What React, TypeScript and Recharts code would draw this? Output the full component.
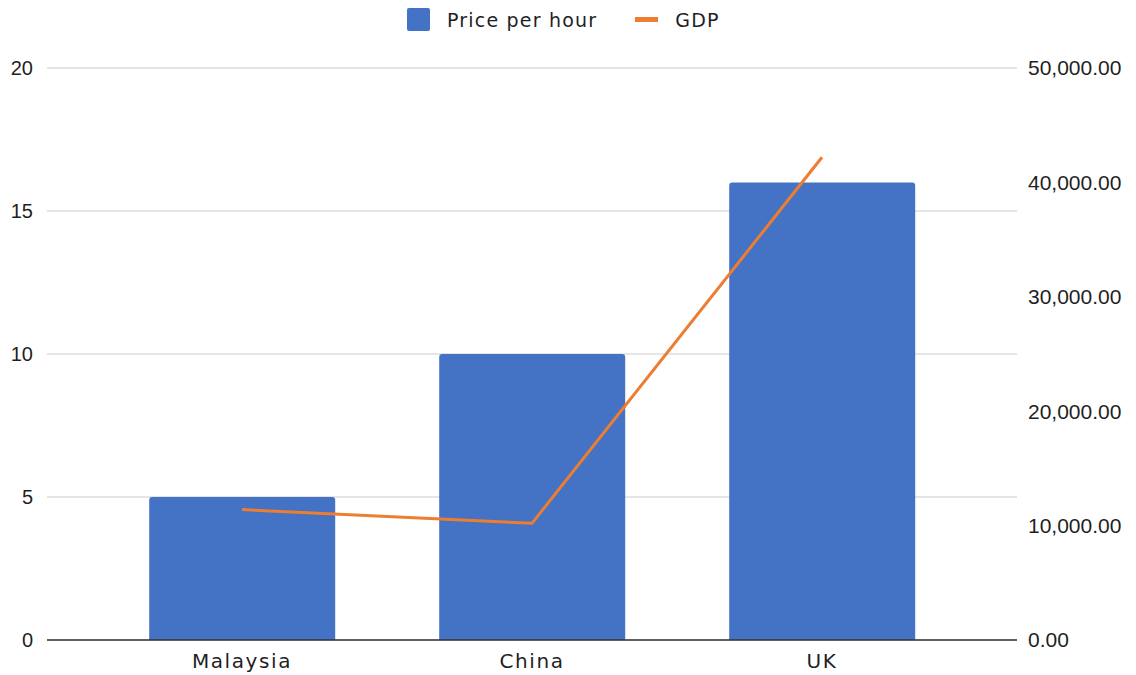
import React from 'react'
import {
  ComposedChart, Bar, Line, XAxis, YAxis, CartesianGrid, Legend,
} from 'recharts'

const countries = ['Malaysia', 'China', 'UK']
const pricePerHour = [5, 10, 16]
const gdp = [11400, 10200, 42200]

const leftTicks = [0, 5, 10, 15, 20]
const rightTicks = [0, 10000, 20000, 30000, 40000, 50000]

const BLUE = '#4472c4'
const ORANGE = '#ed7d31'
const TEXT = '#1f1f1f'
const AXIS_FONT = '"Liberation Sans", Arial, sans-serif'
const LABEL_FONT = '"DejaVu Sans", Verdana, sans-serif'

const data = countries.map((name, i) => ({
  name,
  price: pricePerHour[i],
  gdp: gdp[i],
}))

const fmtMoney = (v: number) =>
  v.toLocaleString('en-US', { minimumFractionDigits: 2, maximumFractionDigits: 2 })

function LegendContent() {
  return (
    <div
      style={{
        display: 'flex',
        alignItems: 'center',
        fontFamily: LABEL_FONT,
        fontSize: 19,
        letterSpacing: 1.2,
        color: TEXT,
      }}
    >
      <span style={{ width: 23, height: 23, background: BLUE, borderRadius: 2, display: 'inline-block' }} />
      <span style={{ marginLeft: 17 }}>Price per hour</span>
      <span style={{ width: 23, height: 5, background: ORANGE, display: 'inline-block', marginLeft: 38 }} />
      <span style={{ marginLeft: 17 }}>GDP</span>
    </div>
  )
}

export default function App() {
  return (
    <div style={{ width: 1136, height: 675, position: 'relative' }}>
      <style>{'body { margin: 0; }'}</style>
      <ComposedChart
        width={1136}
        height={675}
        data={data}
        margin={{ top: 68, right: 0, bottom: 0, left: 0 }}
        barCategoryGap="18%"
      >
        <CartesianGrid
          yAxisId="left"
          vertical={false}
          stroke="#cccccc"
          strokeWidth={1.2}
        />
        <XAxis
          dataKey="name"
          height={35}
          padding={{ left: 50, right: 50 }}
          tickLine={false}
          tickSize={0}
          tickMargin={14}
          axisLine={{ stroke: '#333333', strokeWidth: 1.5 }}
          tick={{ fontSize: 20, fill: TEXT, fontFamily: LABEL_FONT, letterSpacing: 1.6 }}
        />
        <YAxis
          yAxisId="left"
          orientation="left"
          width={47}
          domain={[0, 20]}
          ticks={leftTicks}
          axisLine={false}
          tickLine={false}
          tickSize={0}
          tickMargin={14}
          tick={{ fontSize: 20, fill: TEXT, fontFamily: AXIS_FONT }}
        />
        <YAxis
          yAxisId="right"
          orientation="right"
          width={119}
          domain={[0, 50000]}
          ticks={rightTicks}
          tickFormatter={fmtMoney}
          axisLine={false}
          tickLine={false}
          tickSize={0}
          tickMargin={11}
          tick={{ fontSize: 21, fill: TEXT, fontFamily: AXIS_FONT, textAnchor: 'start' }}
        />
        <Legend
          verticalAlign="middle"
          layout="horizontal"
          content={<LegendContent />}
          wrapperStyle={{ top: 8, left: 407, width: 400 }}
        />
        <Bar
          yAxisId="left"
          dataKey="price"
          name="Price per hour"
          fill={BLUE}
          radius={[3, 3, 0, 0]}
          isAnimationActive={false}
        />
        <Line
          yAxisId="right"
          dataKey="gdp"
          name="GDP"
          type="linear"
          stroke={ORANGE}
          strokeWidth={3}
          dot={false}
          activeDot={false}
          isAnimationActive={false}
        />
      </ComposedChart>
    </div>
  )
}
